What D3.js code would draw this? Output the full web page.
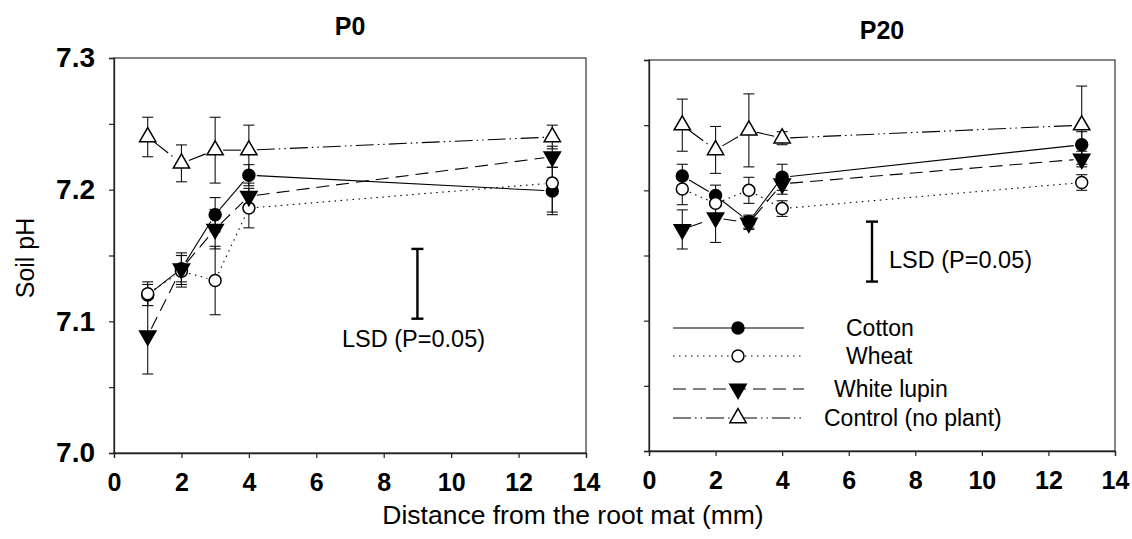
<!DOCTYPE html>
<html>
<head>
<meta charset="utf-8">
<script src="https://cdn.jsdelivr.net/npm/d3@7"></script>
<style>
  body { margin: 0; background: #fff; }
  svg { display: block; font-family: Arial, "Liberation Sans", sans-serif; }
</style>
</head>
<body>
<svg id="chart" width="1132" height="539"></svg>
<script>
// ---------- DATA ----------
const distances = [1, 2, 3, 4, 13];
const seriesNames = ["Cotton", "Wheat", "White lupin", "Control (no plant)"];
const panelTitles = ["P0", "P20"];
const xTickValues = [0, 2, 4, 6, 8, 10, 12, 14];
const yTickValues = [7.0, 7.05, 7.1, 7.15, 7.2, 7.25, 7.3];
const yTickLabels = ["7.0", "", "7.1", "", "7.2", "", "7.3"];

// P0
const p0Cotton     = [7.120, 7.140, 7.181, 7.211, 7.199];
const p0CottonErr  = [0.008, 0.012, 0.013, 0.008, 0.018];
const p0Wheat      = [7.121, 7.138, 7.131, 7.186, 7.205];
const p0WheatErr   = [0.009, 0.012, 0.026, 0.015, 0.022];
const p0Lupin      = [7.089, 7.140, 7.170, 7.195, 7.225];
const p0LupinErr   = [0.029, 0.010, 0.015, 0.010, 0.008];
const p0Control    = [7.240, 7.220, 7.230, 7.230, 7.240];
const p0ControlErr = [0.015, 0.014, 0.025, 0.019, 0.009];

// P20
const p20Cotton     = [7.211, 7.196, 7.176, 7.210, 7.235];
const p20CottonErr  = [0.009, 0.008, 0.005, 0.010, 0.010];
const p20Wheat      = [7.201, 7.190, 7.200, 7.186, 7.206];
const p20WheatErr   = [0.012, 0.008, 0.010, 0.006, 0.006];
const p20Lupin      = [7.170, 7.179, 7.175, 7.205, 7.224];
const p20LupinErr   = [0.015, 0.019, 0.005, 0.008, 0.006];
const p20Control    = [7.250, 7.231, 7.246, 7.240, 7.250];
const p20ControlErr = [0.020, 0.018, 0.028, 0.005, 0.030];

// LSD (P=0.05) bars: [x position, lower, upper]
const lsdP0  = [9.0, 7.102, 7.155];
const lsdP20 = [6.7, 7.130, 7.176];
const lsdLabel = "LSD (P=0.05)";

const xTitle = "Distance from the root mat (mm)";
const yTitle = "Soil pH";

// ---------- STYLE ----------
const seriesStyle = [
  { dash: null,                 symbol: d3.symbolCircle,   size: 112, rot: 0,   fill: "#000" },
  { dash: "1.5,4.5",            symbol: d3.symbolCircle,   size: 112, rot: 0,   fill: "#fff" },
  { dash: "13,7",               symbol: d3.symbolTriangle, size: 115, rot: 180, fill: "#000" },
  { dash: "18,4,1.5,4,1.5,4",   symbol: d3.symbolTriangle, size: 115, rot: 0,   fill: "#fff" }
];

const panels = [
  { title: panelTitles[0], x0: 114, x1: 586, yBot: 453, yTop: 58, titleY: 35, labels: true,
    series: [[p0Cotton, p0CottonErr], [p0Wheat, p0WheatErr], [p0Lupin, p0LupinErr], [p0Control, p0ControlErr]],
    lsd: lsdP0, lsdTextX: 342, lsdTextY: 347 },
  { title: panelTitles[1], x0: 649, x1: 1115, yBot: 451, yTop: 60, titleY: 39, labels: false,
    series: [[p20Cotton, p20CottonErr], [p20Wheat, p20WheatErr], [p20Lupin, p20LupinErr], [p20Control, p20ControlErr]],
    lsd: lsdP20, lsdTextX: 889, lsdTextY: 268 }
];

const svg = d3.select("#chart");

panels.forEach(p => {
  const x = d3.scaleLinear().domain([0, 14]).range([p.x0, p.x1]);
  const y = d3.scaleLinear().domain([7.0, 7.3]).range([p.yBot, p.yTop]);
  const g = svg.append("g");

  // frame
  g.append("rect")
    .attr("x", p.x0).attr("y", p.yTop)
    .attr("width", p.x1 - p.x0).attr("height", p.yBot - p.yTop)
    .attr("fill", "none").attr("stroke", "#444").attr("stroke-width", 1.3);

  // axes
  const xAxis = d3.axisBottom(x).tickValues(xTickValues).tickSize(5).tickPadding(15)
    .tickFormat(d3.format("d"));
  const gx = g.append("g").attr("transform", `translate(0,${p.yBot})`).call(xAxis);
  gx.selectAll("text").attr("font-size", 25).attr("font-weight", "bold")
    .attr("font-family", "Arial, 'Liberation Sans', sans-serif").attr("fill", "#000");

  const yAxis = d3.axisLeft(y).tickValues(yTickValues).tickSize(5).tickPadding(14)
    .tickFormat((d, i) => p.labels ? yTickLabels[i] : "");
  const gy = g.append("g").attr("transform", `translate(${p.x0},0)`).call(yAxis);
  gy.selectAll("text").attr("font-size", 28).attr("font-weight", "bold")
    .attr("font-family", "Arial, 'Liberation Sans', sans-serif").attr("fill", "#000");
  [gx, gy].forEach(a => {
    a.select(".domain").attr("stroke", "#222").attr("stroke-width", 1.3);
    a.selectAll(".tick line").attr("stroke", "#222").attr("stroke-width", 1.2);
  });

  // title
  g.append("text").attr("x", (p.x0 + p.x1) / 2).attr("y", p.titleY)
    .attr("text-anchor", "middle").attr("font-size", 25).attr("font-weight", "bold")
    .text(p.title);

  // series lines with gaps at markers
  const gap = 8;
  p.series.forEach((s, si) => {
    const vals = s[0];
    const st = seriesStyle[si];
    for (let i = 0; i < vals.length - 1; i++) {
      const ax = x(distances[i]), ay = y(vals[i]);
      const bx = x(distances[i + 1]), by = y(vals[i + 1]);
      const dx = bx - ax, dy = by - ay, len = Math.hypot(dx, dy);
      if (len <= 2 * gap + 1) continue;
      const ux = dx / len, uy = dy / len;
      g.append("line")
        .attr("x1", ax + ux * gap).attr("y1", ay + uy * gap)
        .attr("x2", bx - ux * gap).attr("y2", by - uy * gap)
        .attr("stroke", "#000").attr("stroke-width", 1.1)
        .attr("stroke-dasharray", st.dash);
    }
  });

  // error bars
  p.series.forEach((s, si) => {
    const vals = s[0], errs = s[1];
    vals.forEach((v, i) => {
      const cx = x(distances[i]);
      const yt = y(v + errs[i]), yb = y(v - errs[i]);
      g.append("line").attr("x1", cx).attr("x2", cx).attr("y1", yt).attr("y2", yb)
        .attr("stroke", "#111").attr("stroke-width", 1.1);
      [yt, yb].forEach(yy => g.append("line")
        .attr("x1", cx - 5.5).attr("x2", cx + 5.5).attr("y1", yy).attr("y2", yy)
        .attr("stroke", "#111").attr("stroke-width", 1.1));
    });
  });

  // markers
  p.series.forEach((s, si) => {
    const st = seriesStyle[si];
    const sym = d3.symbol().type(st.symbol).size(st.size);
    s[0].forEach((v, i) => {
      g.append("path").attr("d", sym())
        .attr("transform", `translate(${x(distances[i])},${y(v)}) rotate(${st.rot})`)
        .attr("fill", st.fill).attr("stroke", "#000").attr("stroke-width", 1.5);
    });
  });

  // LSD bar
  const lx = x(p.lsd[0]);
  const lt = y(p.lsd[2]), lb = y(p.lsd[1]);
  g.append("line").attr("x1", lx).attr("x2", lx).attr("y1", lt).attr("y2", lb)
    .attr("stroke", "#000").attr("stroke-width", 2.4);
  [lt, lb].forEach(yy => g.append("line")
    .attr("x1", lx - 6).attr("x2", lx + 6).attr("y1", yy).attr("y2", yy)
    .attr("stroke", "#000").attr("stroke-width", 2.4));
  g.append("text").attr("x", p.lsdTextX).attr("y", p.lsdTextY)
    .attr("font-size", 23.5).text(lsdLabel);
});

// legend (in P20 panel)
const legendRows = [328, 356, 389, 418];
const legendTextX = [846, 846, 834, 824];
const lg = svg.append("g");
seriesNames.forEach((name, si) => {
  const st = seriesStyle[si];
  const yy = legendRows[si];
  lg.append("line").attr("x1", 673).attr("x2", 804).attr("y1", yy).attr("y2", yy)
    .attr("stroke", "#000").attr("stroke-width", 1.1).attr("stroke-dasharray", st.dash);
  const sym = d3.symbol().type(st.symbol).size(st.size);
  lg.append("path").attr("d", sym())
    .attr("transform", `translate(738,${yy}) rotate(${st.rot})`)
    .attr("fill", st.fill).attr("stroke", "#000").attr("stroke-width", 1.5);
  lg.append("text").attr("x", legendTextX[si]).attr("y", yy).attr("dy", "0.35em")
    .attr("font-size", 23).text(name);
});

// axis titles
svg.append("text").attr("x", 573).attr("y", 524).attr("text-anchor", "middle")
  .attr("font-size", 26.5).text(xTitle);
svg.append("text").attr("transform", "translate(34,258) rotate(-90)")
  .attr("text-anchor", "middle").attr("font-size", 25).text(yTitle);
</script>
</body>
</html>
